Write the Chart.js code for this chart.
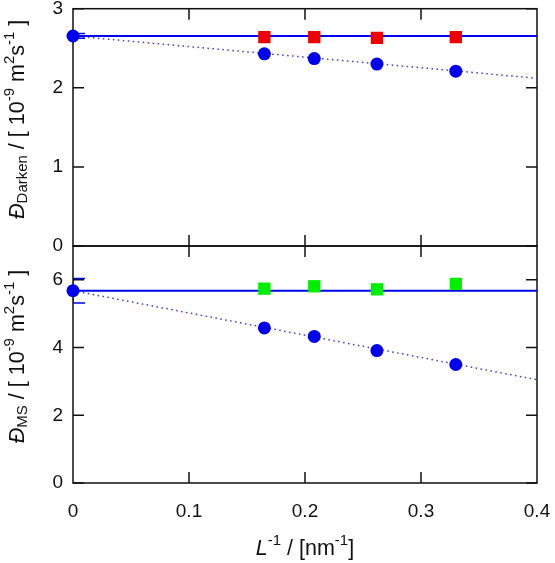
<!DOCTYPE html>
<html>
<head>
<meta charset="utf-8">
<script src="https://cdn.jsdelivr.net/npm/chart.js@4.4.0/dist/chart.umd.min.js"></script>
<style>
  html, body { margin: 0; padding: 0; background: #fff; }
  #wrap { position: relative; width: 555px; height: 563px; }
  #wrap canvas { position: absolute; left: 0; top: 0; }
</style>
</head>
<body>
<div id="wrap">
  <canvas id="topChart" width="555" height="563"></canvas>
  <canvas id="bottomChart" width="555" height="563"></canvas>
</div>
<script>
// x values: inverse box length L^-1 in nm^-1
const invLength = [0.165, 0.208, 0.262, 0.330];
const xTicks = [0, 0.1, 0.2, 0.3, 0.4];
const fitX = [0, 0.4];

// top panel (Darken)
const darkenSquares = [2.64, 2.64, 2.63, 2.64];
const darkenCircles = [2.43, 2.37, 2.30, 2.21];
const darkenLimit = 2.655;
const darkenLimitErr = 0.03;
const darkenFitEnd = 2.12;
const darkenTicks = [0, 1, 2, 3];

// bottom panel (MS)
const msSquares = [5.74, 5.81, 5.72, 5.88];
const msCircles = [4.58, 4.33, 3.91, 3.50];
const msLimit = 5.68;
const msLimitErr = 0.36;
const msFitEnd = 3.05;
const msTicks = [0, 2, 4, 6];

const FONT = '"Liberation Sans", Arial, sans-serif';
const main = "21.5px " + FONT;
const small = "15px " + FONT;
const ital = "italic 21.5px " + FONT;

Chart.defaults.font.family = FONT;
Chart.defaults.font.size = 19;
Chart.defaults.color = "#111";

function richText(ctx, parts, x, y, angle) {
  ctx.save();
  ctx.translate(x, y);
  ctx.rotate(angle);
  let total = 0;
  parts.forEach(p => { ctx.font = p.font; total += ctx.measureText(p.text).width; });
  let pos = -total / 2;
  ctx.textBaseline = "alphabetic";
  ctx.textAlign = "left";
  ctx.fillStyle = "#111";
  parts.forEach(p => {
    ctx.font = p.font;
    ctx.fillText(p.text, pos, p.dy || 0);
    pos += ctx.measureText(p.text).width;
  });
  ctx.restore();
}

function pts(xs, ys) {
  return xs.map((x, i) => ({ x: x, y: ys[i] }));
}

function framePlugin(cfg) {
  return {
    id: "frame",
    beforeDatasetsDraw(chart) {
      const { ctx, chartArea: a, scales } = chart;
      ctx.save();
      ctx.strokeStyle = "#111";
      ctx.lineWidth = 1.5;
      ctx.strokeRect(a.left, a.top, a.right - a.left, a.bottom - a.top);
      ctx.beginPath();
      xTicks.slice(1, -1).forEach(v => {
        const px = scales.x.getPixelForValue(v);
        ctx.moveTo(px, a.top); ctx.lineTo(px, a.top + 11);
        ctx.moveTo(px, a.bottom); ctx.lineTo(px, a.bottom - 11);
      });
      cfg.yTicks.forEach(v => {
        const py = scales.y.getPixelForValue(v);
        ctx.moveTo(a.left, py); ctx.lineTo(a.left + 11, py);
        ctx.moveTo(a.right, py); ctx.lineTo(a.right - 11, py);
      });
      ctx.stroke();
      ctx.restore();
    },
    afterDatasetsDraw(chart) {
      const { ctx, chartArea: a, scales } = chart;
      // error bar of the extrapolated value
      const px = scales.x.getPixelForValue(0);
      const hi = scales.y.getPixelForValue(cfg.limit + cfg.err);
      const lo = scales.y.getPixelForValue(cfg.limit - cfg.err);
      ctx.save();
      ctx.beginPath();
      ctx.rect(a.left, a.top, a.right - a.left, a.bottom - a.top);
      ctx.clip();
      ctx.strokeStyle = "#0000ee";
      ctx.lineWidth = 1.5;
      ctx.beginPath();
      ctx.moveTo(px, hi); ctx.lineTo(px, lo);
      ctx.moveTo(px - 12, hi); ctx.lineTo(px + 12, hi);
      ctx.moveTo(px - 12, lo); ctx.lineTo(px + 12, lo);
      ctx.stroke();
      ctx.restore();
    },
    afterDraw(chart) {
      const { ctx, chartArea: a } = chart;
      const cy = (a.top + a.bottom) / 2 - 8;
      richText(ctx, cfg.yTitle, 24, cy, -Math.PI / 2);
      if (cfg.xTitle) {
        richText(ctx, cfg.xTitle, (a.left + a.right) / 2, 555, 0);
      }
    }
  };
}

function makePanel(id, cfg) {
  new Chart(document.getElementById(id), {
    type: "scatter",
    data: {
      datasets: [
        {
          data: pts([0].concat(invLength), [cfg.limit].concat(cfg.circles)),
          pointStyle: "circle",
          pointRadius: 6.5,
          pointBackgroundColor: "#0000ee",
          pointBorderWidth: 0,
          showLine: false,
          clip: false,
          order: 0
        },
        {
          data: pts(invLength, cfg.squares),
          pointStyle: "rect",
          pointRadius: 8.7,
          pointBackgroundColor: cfg.squareColor,
          pointBorderWidth: 0,
          showLine: false,
          order: 1
        },
        {
          data: pts(fitX, [cfg.limit, cfg.limit]),
          showLine: true,
          borderColor: "#0000ee",
          borderWidth: 2,
          pointRadius: 0,
          order: 2
        },
        {
          data: pts(fitX, [cfg.limit, cfg.fitEnd]),
          showLine: true,
          borderColor: "#3a3ae6",
          borderWidth: 1.5,
          borderDash: [1.5, 3.5],
          pointRadius: 0,
          order: 3
        }
      ]
    },
    options: {
      responsive: false,
      animation: false,
      layout: { padding: cfg.padding },
      plugins: { legend: { display: false }, tooltip: { enabled: false } },
      scales: {
        x: {
          type: "linear",
          min: 0,
          max: 0.4,
          display: cfg.showX,
          grid: { display: false, drawTicks: false },
          border: { display: false },
          ticks: { padding: 17, color: "#111", font: { size: 19 } },
          afterBuildTicks: s => { s.ticks = xTicks.map(v => ({ value: v })); },
          afterFit: s => { s.height = cfg.showX ? 80 : 0; s.paddingLeft = 0; s.paddingRight = 0; }
        },
        y: {
          type: "linear",
          min: 0,
          max: cfg.yMax,
          grid: { display: false, drawTicks: false },
          border: { display: false },
          ticks: { padding: 10, color: "#111", font: { size: 19 } },
          afterBuildTicks: s => { s.ticks = cfg.yTicks.map(v => ({ value: v })); },
          afterFit: s => { s.width = 73; s.paddingTop = 0; s.paddingBottom = 0; }
        }
      }
    },
    plugins: [framePlugin(cfg)]
  });
}

makePanel("topChart", {
  circles: darkenCircles,
  squares: darkenSquares,
  squareColor: "#ee0000",
  limit: darkenLimit,
  err: darkenLimitErr,
  fitEnd: darkenFitEnd,
  yTicks: darkenTicks,
  yMax: 3,
  showX: false,
  padding: { left: 0, right: 18, top: 7, bottom: 317 },
  yTitle: [
    { text: "\u0110", font: ital },
    { text: "Darken", font: small, dy: 3 },
    { text: " / [ 10", font: main },
    { text: "-9", font: small, dy: -10 },
    { text: " m", font: main },
    { text: "2", font: small, dy: -10 },
    { text: "s", font: main },
    { text: "-1", font: small, dy: -10 },
    { text: " ]", font: main }
  ]
});

makePanel("bottomChart", {
  circles: msCircles,
  squares: msSquares,
  squareColor: "#00ee00",
  limit: msLimit,
  err: msLimitErr,
  fitEnd: msFitEnd,
  yTicks: msTicks,
  yMax: 7,
  showX: true,
  padding: { left: 0, right: 18, top: 246, bottom: 0 },
  yTitle: [
    { text: "\u0110", font: ital },
    { text: "MS", font: small, dy: 3 },
    { text: " / [ 10", font: main },
    { text: "-9", font: small, dy: -10 },
    { text: " m", font: main },
    { text: "2", font: small, dy: -10 },
    { text: "s", font: main },
    { text: "-1", font: small, dy: -10 },
    { text: " ]", font: main }
  ],
  xTitle: [
    { text: "L", font: ital },
    { text: "-1", font: small, dy: -10 },
    { text: " / [nm", font: main },
    { text: "-1", font: small, dy: -10 },
    { text: "]", font: main }
  ]
});
</script>
</body>
</html>
